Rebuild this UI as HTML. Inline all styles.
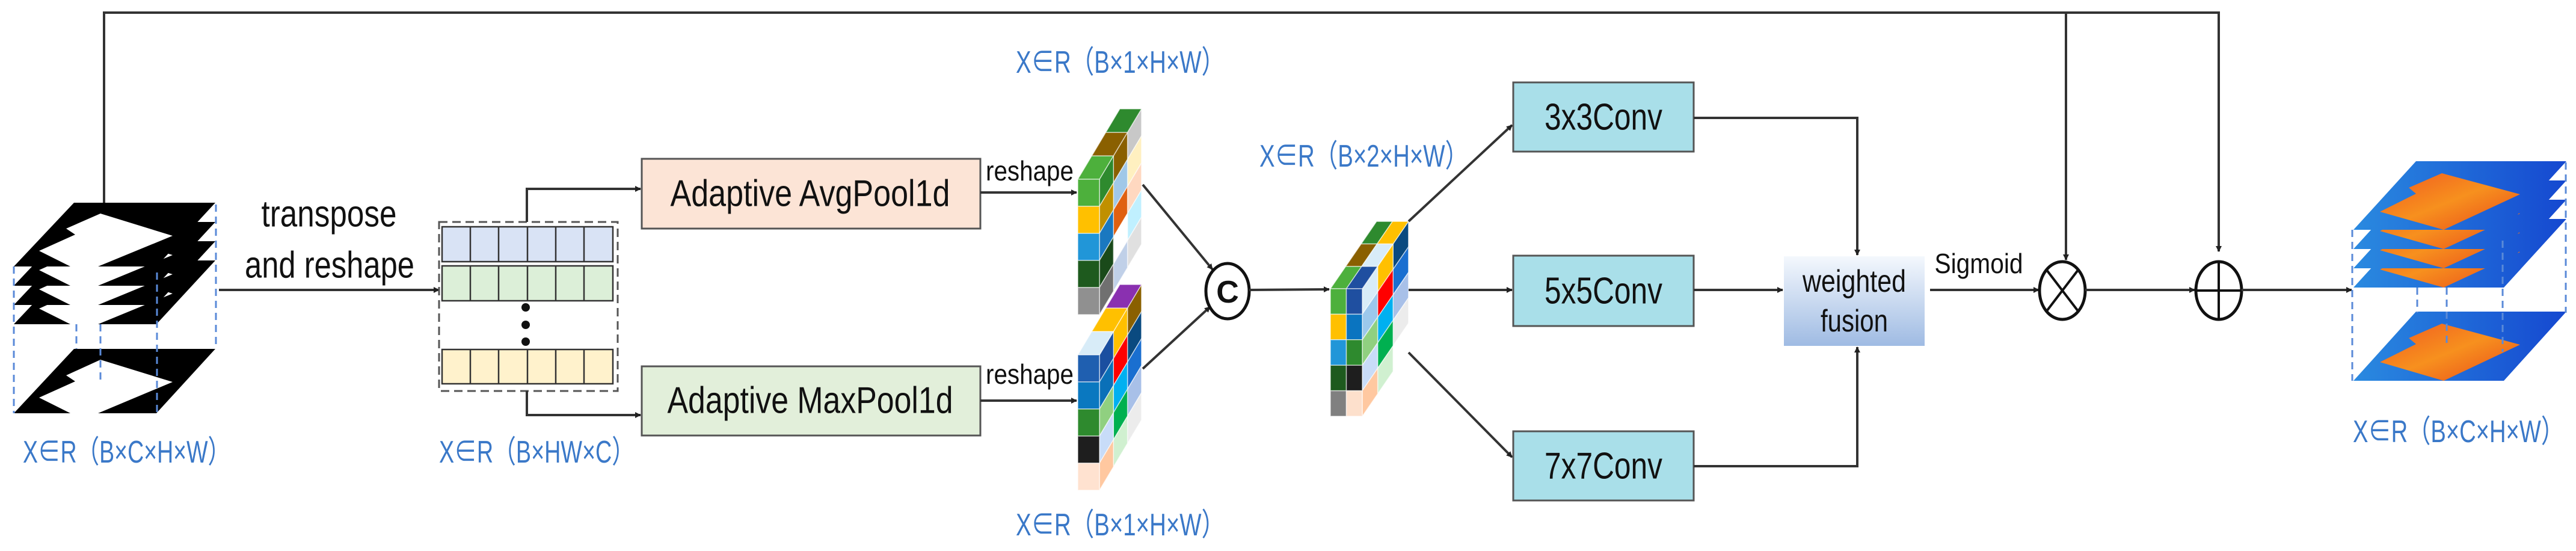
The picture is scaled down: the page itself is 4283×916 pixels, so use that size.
<!DOCTYPE html>
<html><head><meta charset="utf-8"><style>
html,body{margin:0;padding:0;background:#fff;}
svg{display:block;}
text{font-family:"Liberation Sans","Noto Sans CJK SC",sans-serif;}
.lbl{fill:#3a78c8;font-size:52px;}
.bt{fill:#111;font-size:62px;}
.ln{stroke:#333;stroke-width:4;fill:none;}
.cell{stroke:#ffffff;stroke-opacity:0.6;stroke-width:1.5;}
.dash{stroke:#5a8ad8;stroke-width:3;stroke-dasharray:12 8;fill:none;}
</style></head><body>
<svg width="4283" height="916" viewBox="0 0 4283 916" xmlns="http://www.w3.org/2000/svg">
<defs>
<marker id="ah" markerWidth="10" markerHeight="10" refX="9" refY="5" orient="auto" markerUnits="userSpaceOnUse" viewBox="0 0 10 10">
<path d="M0,0 L10,5 L0,10 z" fill="#222"/></marker>
<linearGradient id="wf" x1="0" y1="0" x2="0" y2="1"><stop offset="0" stop-color="#f4f8fd"/><stop offset="1" stop-color="#9fbbe3"/></linearGradient>
<linearGradient id="hb" x1="0" y1="0" x2="1" y2="0"><stop offset="0" stop-color="#2a8ae0"/><stop offset="1" stop-color="#1548d0"/></linearGradient>
<linearGradient id="ho" x1="0" y1="0" x2="1" y2="1"><stop offset="0" stop-color="#f05a20"/><stop offset="0.5" stop-color="#f7901e"/><stop offset="1" stop-color="#e84a1a"/></linearGradient>
</defs>

<!-- top skip line -->
<polyline class="ln" points="173,338 173,21 3689,21 3689,418" marker-end="url(#ah)"/>
<line class="ln" x1="3435" y1="21" x2="3435" y2="432" marker-end="url(#ah)"/>

<!-- input stack -->
<g>
<polygon points="123,433 358,433 260,539 23,539" fill="#000"/>
<polygon points="167,451 287,488 163,539 117,539 65,513 125,486 110,476" fill="#fff"/>
<polygon points="123,401 358,401 260,507 23,507" fill="#000"/>
<polygon points="167,419 287,456 163,507 117,507 65,481 125,454 110,444" fill="#fff"/>
<polygon points="123,369 358,369 260,475 23,475" fill="#000"/>
<polygon points="167,387 287,424 163,475 117,475 65,449 125,422 110,412" fill="#fff"/>
<polygon points="123,337 358,337 260,443 23,443" fill="#000"/>
<polygon points="167,355 287,392 163,443 117,443 65,417 125,390 110,380" fill="#fff"/>
<polygon points="123,580 358,580 260,687 23,687" fill="#000"/>
<polygon points="167,598 287,635 163,687 117,687 65,661 125,634 110,624" fill="#fff"/>
<line class="dash" x1="23" y1="443" x2="23" y2="687"/>
<line class="dash" x1="261" y1="453" x2="261" y2="687"/>
<line class="dash" x1="359" y1="340" x2="359" y2="577"/>
<line class="dash" x1="127" y1="539" x2="127" y2="580"/>
<line class="dash" x1="167" y1="539" x2="167" y2="635"/>
</g>
<text class="lbl" x="38" y="752" dominant-baseline="central" textLength="345" lengthAdjust="spacingAndGlyphs">X∈R（B×C×H×W）</text>

<!-- transpose -->
<text class="bt" x="547" y="356" text-anchor="middle" dominant-baseline="central" textLength="225" lengthAdjust="spacingAndGlyphs">transpose</text>
<text class="bt" x="548" y="441" text-anchor="middle" dominant-baseline="central" textLength="282" lengthAdjust="spacingAndGlyphs">and reshape</text>
<line class="ln" x1="364" y1="482" x2="730" y2="482" marker-end="url(#ah)"/>

<!-- row matrix -->
<rect x="730" y="369" width="297" height="281" fill="none" stroke="#555" stroke-width="3" stroke-dasharray="14 8"/>
<g stroke="#333" stroke-width="2.5">
<rect x="735" y="377" width="284" height="58" fill="#d9e3f5"/>
<rect x="735" y="442" width="284" height="58" fill="#dcefd8"/>
<rect x="735" y="581" width="284" height="57" fill="#fff2cc"/>
<path d="M782,377V435M829,377V435M877,377V435M924,377V435M971,377V435M782,442V500M829,442V500M877,442V500M924,442V500M971,442V500M782,581V638M829,581V638M877,581V638M924,581V638M971,581V638" fill="none"/>
</g>
<circle cx="874" cy="511" r="7" fill="#111"/><circle cx="874" cy="540" r="7" fill="#111"/><circle cx="874" cy="568" r="7" fill="#111"/>
<polyline class="ln" points="876,369 876,314 1065,314" marker-end="url(#ah)"/>
<polyline class="ln" points="876,650 876,690 1065,690" marker-end="url(#ah)"/>
<text class="lbl" x="730" y="752" dominant-baseline="central" textLength="325" lengthAdjust="spacingAndGlyphs">X∈R（B×HW×C）</text>

<!-- pool boxes -->
<rect x="1067" y="264" width="563" height="116" fill="#fce4d6" stroke="#555" stroke-width="3"/>
<text class="bt" x="1347" y="322" text-anchor="middle" dominant-baseline="central" textLength="465" lengthAdjust="spacingAndGlyphs">Adaptive AvgPool1d</text>
<rect x="1067" y="609" width="563" height="115" fill="#e2efda" stroke="#555" stroke-width="3"/>
<text class="bt" x="1347" y="666" text-anchor="middle" dominant-baseline="central" textLength="475" lengthAdjust="spacingAndGlyphs">Adaptive MaxPool1d</text>

<line class="ln" x1="1630" y1="320" x2="1790" y2="320" marker-end="url(#ah)"/>
<line class="ln" x1="1630" y1="666" x2="1790" y2="666" marker-end="url(#ah)"/>
<text x="1712" y="284" text-anchor="middle" dominant-baseline="central" font-size="46" fill="#111" textLength="146" lengthAdjust="spacingAndGlyphs">reshape</text>
<text x="1712" y="622" text-anchor="middle" dominant-baseline="central" font-size="46" fill="#111" textLength="146" lengthAdjust="spacingAndGlyphs">reshape</text>

<text class="lbl" x="1689" y="104" dominant-baseline="central" textLength="347" lengthAdjust="spacingAndGlyphs">X∈R（B×1×H×W）</text>
<text class="lbl" x="1689" y="873" dominant-baseline="central" textLength="347" lengthAdjust="spacingAndGlyphs">X∈R（B×1×H×W）</text>
<text class="lbl" x="2094" y="260" dominant-baseline="central" textLength="347" lengthAdjust="spacingAndGlyphs">X∈R（B×2×H×W）</text>

<!-- top cube: front 1 col, x0=1792 y0=298, w36 h45, depth 3 (23.3,-39) -->
<g>
<g transform="matrix(23.3,-39,0,45,1828,298)">
<rect class="cell" vector-effect="non-scaling-stroke" x="2" y="0" width="1" height="1" fill="#c8c8c8"/>
<rect class="cell" vector-effect="non-scaling-stroke" x="2" y="1" width="1" height="1" fill="#fff0c0"/>
<rect class="cell" vector-effect="non-scaling-stroke" x="2" y="2" width="1" height="1" fill="#ffd8c0"/>
<rect class="cell" vector-effect="non-scaling-stroke" x="2" y="3" width="1" height="1" fill="#c0f0ff"/>
<rect class="cell" vector-effect="non-scaling-stroke" x="2" y="4" width="1" height="1" fill="#e0e0e0"/>
<rect class="cell" vector-effect="non-scaling-stroke" x="1" y="0" width="1" height="1" fill="#8a6000"/>
<rect class="cell" vector-effect="non-scaling-stroke" x="1" y="1" width="1" height="1" fill="#a0c8e8"/>
<rect class="cell" vector-effect="non-scaling-stroke" x="1" y="2" width="1" height="1" fill="#e06010"/>
<rect class="cell" vector-effect="non-scaling-stroke" x="1" y="3" width="1" height="1" fill="#ffffff"/>
<rect class="cell" vector-effect="non-scaling-stroke" x="1" y="4" width="1" height="1" fill="#c0d0e8"/>
<rect class="cell" vector-effect="non-scaling-stroke" x="0" y="0" width="1" height="1" fill="#2e8a2e"/>
<rect class="cell" vector-effect="non-scaling-stroke" x="0" y="1" width="1" height="1" fill="#c09000"/>
<rect class="cell" vector-effect="non-scaling-stroke" x="0" y="2" width="1" height="1" fill="#1a78c0"/>
<rect class="cell" vector-effect="non-scaling-stroke" x="0" y="3" width="1" height="1" fill="#1a4a1a"/>
<rect class="cell" vector-effect="non-scaling-stroke" x="0" y="4" width="1" height="1" fill="#707070"/>
</g>
<g transform="matrix(36,0,23.3,-39,1792,298)">
<rect class="cell" vector-effect="non-scaling-stroke" x="0" y="0" width="1" height="1" fill="#4db03c"/>
<rect class="cell" vector-effect="non-scaling-stroke" x="0" y="1" width="1" height="1" fill="#8a6000"/>
<rect class="cell" vector-effect="non-scaling-stroke" x="0" y="2" width="1" height="1" fill="#2e8a2e"/>
</g>
<g transform="matrix(36,0,0,45,1792,298)">
<rect class="cell" vector-effect="non-scaling-stroke" x="0" y="0" width="1" height="1" fill="#4db03c"/>
<rect class="cell" vector-effect="non-scaling-stroke" x="0" y="1" width="1" height="1" fill="#ffc000"/>
<rect class="cell" vector-effect="non-scaling-stroke" x="0" y="2" width="1" height="1" fill="#2196d8"/>
<rect class="cell" vector-effect="non-scaling-stroke" x="0" y="3" width="1" height="1" fill="#1e5a1e"/>
<rect class="cell" vector-effect="non-scaling-stroke" x="0" y="4" width="1" height="1" fill="#909090"/>
</g>
</g>

<!-- bottom cube -->
<g>
<g transform="matrix(23.3,-39,0,45,1828,590)">
<rect class="cell" vector-effect="non-scaling-stroke" x="2" y="0" width="1" height="1" fill="#8a6000"/>
<rect class="cell" vector-effect="non-scaling-stroke" x="2" y="1" width="1" height="1" fill="#0a4a80"/>
<rect class="cell" vector-effect="non-scaling-stroke" x="2" y="2" width="1" height="1" fill="#1a6fd0"/>
<rect class="cell" vector-effect="non-scaling-stroke" x="2" y="3" width="1" height="1" fill="#a8c0e8"/>
<rect class="cell" vector-effect="non-scaling-stroke" x="2" y="4" width="1" height="1" fill="#ececec"/>
<rect class="cell" vector-effect="non-scaling-stroke" x="1" y="0" width="1" height="1" fill="#ffc000"/>
<rect class="cell" vector-effect="non-scaling-stroke" x="1" y="1" width="1" height="1" fill="#ff0000"/>
<rect class="cell" vector-effect="non-scaling-stroke" x="1" y="2" width="1" height="1" fill="#00b0f0"/>
<rect class="cell" vector-effect="non-scaling-stroke" x="1" y="3" width="1" height="1" fill="#00b050"/>
<rect class="cell" vector-effect="non-scaling-stroke" x="1" y="4" width="1" height="1" fill="#d0f0d0"/>
<rect class="cell" vector-effect="non-scaling-stroke" x="0" y="0" width="1" height="1" fill="#1a4fa0"/>
<rect class="cell" vector-effect="non-scaling-stroke" x="0" y="1" width="1" height="1" fill="#0a70b8"/>
<rect class="cell" vector-effect="non-scaling-stroke" x="0" y="2" width="1" height="1" fill="#90d080"/>
<rect class="cell" vector-effect="non-scaling-stroke" x="0" y="3" width="1" height="1" fill="#c8dcf8"/>
<rect class="cell" vector-effect="non-scaling-stroke" x="0" y="4" width="1" height="1" fill="#ffc8a0"/>
</g>
<g transform="matrix(36,0,23.3,-39,1792,590)">
<rect class="cell" vector-effect="non-scaling-stroke" x="0" y="0" width="1" height="1" fill="#d8ecf8"/>
<rect class="cell" vector-effect="non-scaling-stroke" x="0" y="1" width="1" height="1" fill="#ffc000"/>
<rect class="cell" vector-effect="non-scaling-stroke" x="0" y="2" width="1" height="1" fill="#8a30b0"/>
</g>
<g transform="matrix(36,0,0,45,1792,590)">
<rect class="cell" vector-effect="non-scaling-stroke" x="0" y="0" width="1" height="1" fill="#1f5fb0"/>
<rect class="cell" vector-effect="non-scaling-stroke" x="0" y="1" width="1" height="1" fill="#0a78c0"/>
<rect class="cell" vector-effect="non-scaling-stroke" x="0" y="2" width="1" height="1" fill="#2e8a2e"/>
<rect class="cell" vector-effect="non-scaling-stroke" x="0" y="3" width="1" height="1" fill="#1e1e1e"/>
<rect class="cell" vector-effect="non-scaling-stroke" x="0" y="4" width="1" height="1" fill="#ffe2d0"/>
</g>
</g>

<!-- C node -->
<line class="ln" x1="1900" y1="307" x2="2016" y2="448" marker-end="url(#ah)"/>
<line class="ln" x1="1900" y1="613" x2="2012" y2="510" marker-end="url(#ah)"/>
<ellipse cx="2041" cy="484" rx="36" ry="46" fill="#fff" stroke="#111" stroke-width="5"/>
<text x="2041" y="486" text-anchor="middle" dominant-baseline="central" font-size="52" font-weight="bold" fill="#111">C</text>
<line class="ln" x1="2077" y1="482" x2="2210" y2="481" marker-end="url(#ah)"/>

<!-- middle cube: front 2 cols x0=2212 y0=480 w26.5 h42.4, depth 3 (25.6,-37.3) -->
<g>
<g transform="matrix(25.6,-37.3,0,42.4,2265,480)">
<rect class="cell" vector-effect="non-scaling-stroke" x="2" y="0" width="1" height="1" fill="#0a4a80"/>
<rect class="cell" vector-effect="non-scaling-stroke" x="2" y="1" width="1" height="1" fill="#1a6fd0"/>
<rect class="cell" vector-effect="non-scaling-stroke" x="2" y="2" width="1" height="1" fill="#a8c0e8"/>
<rect class="cell" vector-effect="non-scaling-stroke" x="2" y="3" width="1" height="1" fill="#ececec"/>
<rect class="cell" vector-effect="non-scaling-stroke" x="2" y="4" width="1" height="1" fill="#ffffff"/>
<rect class="cell" vector-effect="non-scaling-stroke" x="1" y="0" width="1" height="1" fill="#ffc000"/>
<rect class="cell" vector-effect="non-scaling-stroke" x="1" y="1" width="1" height="1" fill="#ff0000"/>
<rect class="cell" vector-effect="non-scaling-stroke" x="1" y="2" width="1" height="1" fill="#00b0f0"/>
<rect class="cell" vector-effect="non-scaling-stroke" x="1" y="3" width="1" height="1" fill="#00b050"/>
<rect class="cell" vector-effect="non-scaling-stroke" x="1" y="4" width="1" height="1" fill="#d0f0d0"/>
<rect class="cell" vector-effect="non-scaling-stroke" x="0" y="0" width="1" height="1" fill="#d8ecf8"/>
<rect class="cell" vector-effect="non-scaling-stroke" x="0" y="1" width="1" height="1" fill="#9cc8ec"/>
<rect class="cell" vector-effect="non-scaling-stroke" x="0" y="2" width="1" height="1" fill="#90d080"/>
<rect class="cell" vector-effect="non-scaling-stroke" x="0" y="3" width="1" height="1" fill="#c8dcf8"/>
<rect class="cell" vector-effect="non-scaling-stroke" x="0" y="4" width="1" height="1" fill="#ffc8a0"/>
</g>
<g transform="matrix(26.5,0,25.6,-37.3,2212,480)">
<rect class="cell" vector-effect="non-scaling-stroke" x="0" y="0" width="1" height="1" fill="#4db03c"/>
<rect class="cell" vector-effect="non-scaling-stroke" x="0" y="1" width="1" height="1" fill="#8a6000"/>
<rect class="cell" vector-effect="non-scaling-stroke" x="0" y="2" width="1" height="1" fill="#2e8a2e"/>
<rect class="cell" vector-effect="non-scaling-stroke" x="1" y="0" width="1" height="1" fill="#1f4fa0"/>
<rect class="cell" vector-effect="non-scaling-stroke" x="1" y="1" width="1" height="1" fill="#d8ecf8"/>
<rect class="cell" vector-effect="non-scaling-stroke" x="1" y="2" width="1" height="1" fill="#ffc000"/>
</g>
<g transform="matrix(26.5,0,0,42.4,2212,480)">
<rect class="cell" vector-effect="non-scaling-stroke" x="0" y="0" width="1" height="1" fill="#4db03c"/>
<rect class="cell" vector-effect="non-scaling-stroke" x="0" y="1" width="1" height="1" fill="#ffc000"/>
<rect class="cell" vector-effect="non-scaling-stroke" x="0" y="2" width="1" height="1" fill="#2196d8"/>
<rect class="cell" vector-effect="non-scaling-stroke" x="0" y="3" width="1" height="1" fill="#1e5a1e"/>
<rect class="cell" vector-effect="non-scaling-stroke" x="0" y="4" width="1" height="1" fill="#808080"/>
<rect class="cell" vector-effect="non-scaling-stroke" x="1" y="0" width="1" height="1" fill="#1f4fa0"/>
<rect class="cell" vector-effect="non-scaling-stroke" x="1" y="1" width="1" height="1" fill="#0a74c0"/>
<rect class="cell" vector-effect="non-scaling-stroke" x="1" y="2" width="1" height="1" fill="#2e8a2e"/>
<rect class="cell" vector-effect="non-scaling-stroke" x="1" y="3" width="1" height="1" fill="#1e1e1e"/>
<rect class="cell" vector-effect="non-scaling-stroke" x="1" y="4" width="1" height="1" fill="#fde0cc"/>
</g>
</g>

<!-- conv branches -->
<line class="ln" x1="2342" y1="368" x2="2514" y2="208" marker-end="url(#ah)"/>
<line class="ln" x1="2342" y1="482" x2="2514" y2="482" marker-end="url(#ah)"/>
<line class="ln" x1="2342" y1="586" x2="2514" y2="760" marker-end="url(#ah)"/>
<g stroke="#555" stroke-width="3" fill="#a9dfe9">
<rect x="2516" y="137" width="300" height="115"/>
<rect x="2516" y="425" width="300" height="117"/>
<rect x="2516" y="717" width="300" height="115"/>
</g>
<text class="bt" x="2666" y="195" text-anchor="middle" dominant-baseline="central" textLength="196" lengthAdjust="spacingAndGlyphs">3x3Conv</text>
<text class="bt" x="2666" y="484" text-anchor="middle" dominant-baseline="central" textLength="196" lengthAdjust="spacingAndGlyphs">5x5Conv</text>
<text class="bt" x="2666" y="775" text-anchor="middle" dominant-baseline="central" textLength="196" lengthAdjust="spacingAndGlyphs">7x7Conv</text>

<polyline class="ln" points="2816,196 3088,196 3088,424" marker-end="url(#ah)"/>
<line class="ln" x1="2816" y1="482" x2="2964" y2="482" marker-end="url(#ah)"/>
<polyline class="ln" points="2816,775 3088,775 3088,577" marker-end="url(#ah)"/>

<!-- weighted fusion -->
<rect x="2966" y="426" width="234" height="149" fill="url(#wf)"/>
<text x="3083" y="468" text-anchor="middle" dominant-baseline="central" font-size="52" fill="#111" textLength="172" lengthAdjust="spacingAndGlyphs">weighted</text>
<text x="3083" y="534" text-anchor="middle" dominant-baseline="central" font-size="52" fill="#111" textLength="112" lengthAdjust="spacingAndGlyphs">fusion</text>

<line class="ln" x1="3209" y1="482" x2="3390" y2="482" marker-end="url(#ah)"/>
<text x="3290" y="438" text-anchor="middle" dominant-baseline="central" font-size="46" fill="#111" textLength="147" lengthAdjust="spacingAndGlyphs">Sigmoid</text>

<!-- otimes -->
<ellipse cx="3429" cy="483" rx="38" ry="48" fill="#fff" stroke="#111" stroke-width="5"/>
<line x1="3403" y1="449" x2="3455" y2="517" stroke="#111" stroke-width="4"/>
<line x1="3455" y1="449" x2="3403" y2="517" stroke="#111" stroke-width="4"/>
<line class="ln" x1="3467" y1="482" x2="3649" y2="482" marker-end="url(#ah)"/>
<!-- oplus -->
<ellipse cx="3689" cy="483" rx="38" ry="48" fill="#fff" stroke="#111" stroke-width="5"/>
<line x1="3689" y1="435" x2="3689" y2="531" stroke="#111" stroke-width="4"/>
<line x1="3651" y1="483" x2="3727" y2="483" stroke="#111" stroke-width="4"/>
<line class="ln" x1="3727" y1="482" x2="3910" y2="482" marker-end="url(#ah)"/>

<!-- heatmap stack -->
<g>
<polygon points="4017,364 4267,364 4163,478 3913,478" fill="url(#hb)"/>
<polygon points="4060,384 4190,419 4063,478 3957,448 4017,418 4005,408" fill="url(#ho)"/>
<polygon points="4017,332 4267,332 4163,446 3913,446" fill="url(#hb)"/>
<polygon points="4060,352 4190,387 4063,446 3957,416 4017,386 4005,376" fill="url(#ho)"/>
<polygon points="4017,300 4267,300 4163,414 3913,414" fill="url(#hb)"/>
<polygon points="4060,320 4190,355 4063,414 3957,384 4017,354 4005,344" fill="url(#ho)"/>
<polygon points="4017,268 4267,268 4163,382 3913,382" fill="url(#hb)"/>
<polygon points="4060,288 4190,323 4063,382 3957,352 4017,322 4005,312" fill="url(#ho)"/>
<polygon points="4017,518 4267,518 4163,633 3913,633" fill="url(#hb)"/>
<polygon points="4060,538 4190,573 4063,633 3957,602 4017,572 4005,562" fill="url(#ho)"/>
<line class="dash" x1="3911" y1="382" x2="3911" y2="633"/>
<line class="dash" x1="4019" y1="478" x2="4019" y2="520"/>
<line class="dash" x1="4068" y1="478" x2="4068" y2="578"/>
<line class="dash" x1="4161" y1="400" x2="4161" y2="585"/>
<line class="dash" x1="4266" y1="270" x2="4266" y2="520"/>
</g>
<text class="lbl" x="3912" y="718" dominant-baseline="central" textLength="351" lengthAdjust="spacingAndGlyphs">X∈R（B×C×H×W）</text>
</svg>
</body></html>
